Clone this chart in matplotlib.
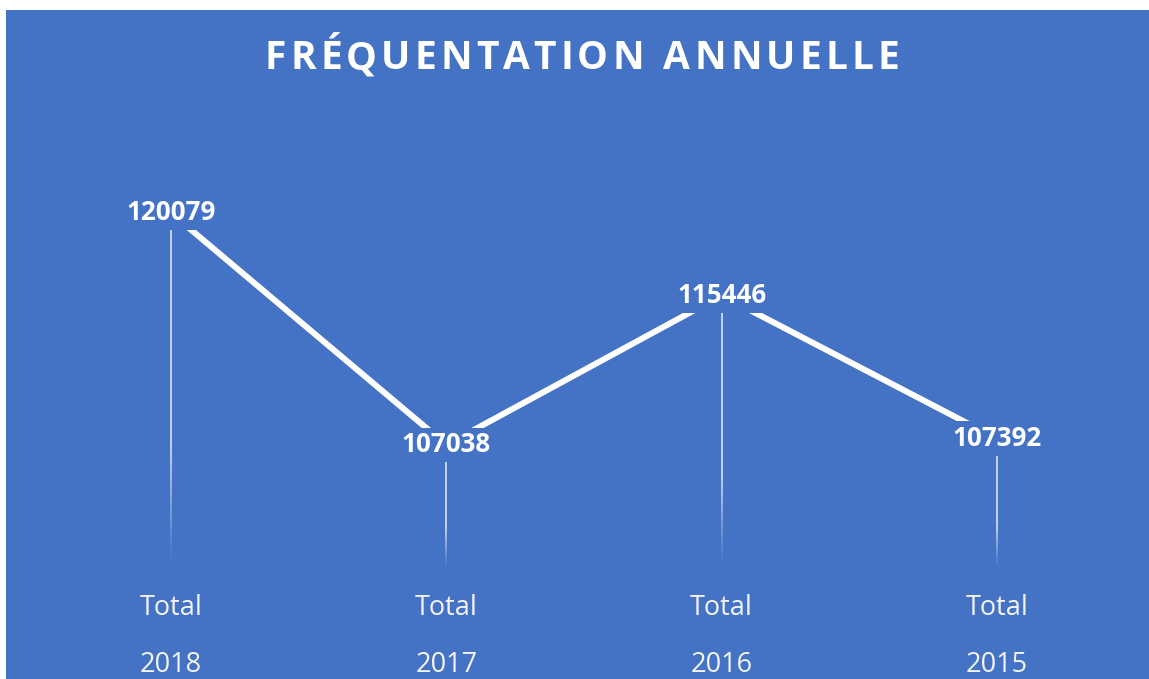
import numpy as np
import matplotlib
matplotlib.use("Agg")
import matplotlib.pyplot as plt
from matplotlib.patches import Rectangle
from matplotlib.collections import LineCollection

# donnees
categories = ["Total", "Total", "Total", "Total"]
annees = ["2018", "2017", "2016", "2015"]
frequentation = [120079, 107038, 115446, 107392]
titre = "FRÉQUENTATION ANNUELLE"

BLEU = "#4472C4"
W, H = 1149, 679

plt.rcParams['font.family'] = ['Open Sans', 'DejaVu Sans']

fig = plt.figure(figsize=(W / 100, H / 100), dpi=100)
fig.patch.set_facecolor("white")
fig.add_artist(Rectangle((6 / W, 0), 1, 669 / H, transform=fig.transFigure,
                         facecolor=BLEU, edgecolor="none", zorder=0))

ax = fig.add_axes([33.5 / W, (H - 570) / H, 1101 / W, (570 - 125.5) / H])
ax.set_facecolor("none")
ax.set_xlim(-0.5, len(annees) - 0.5)
ax.set_ylim(100000, 125000)
ax.axis("off")

x = np.arange(len(annees))

# lignes de projection qui s'estompent vers le bas
segs, cols = [], []
n = 80
for xi, v in zip(x, frequentation):
    ys = np.linspace(v, ax.get_ylim()[0], n + 1)
    for k in range(n):
        frac = 1 - k / n
        a = 0.75 * min(1.0, max(0.0, frac - 0.03) / 0.33)
        segs.append([(xi, ys[k]), (xi, ys[k + 1])])
        cols.append((1, 1, 1, a))
ax.add_collection(LineCollection(segs, colors=cols, linewidths=1.3, zorder=1))

ax.plot(x, frequentation, color="white", lw=4.3, solid_capstyle="butt", zorder=2)

for xi, v in zip(x, frequentation):
    ax.text(xi, v, str(v), ha="center", va="center", color="white",
            fontsize=18.7, fontweight="bold", zorder=3,
            bbox=dict(boxstyle="square,pad=0.14", fc=BLEU, ec="none"))

for xi, c, a in zip(x, categories, annees):
    ax.annotate(c, xy=(xi, 0), xycoords=("data", "axes fraction"),
                xytext=(0, -27.4), textcoords="offset points",
                ha="center", va="center", fontsize=19.5, color="#F4F4F4")
    ax.annotate(a, xy=(xi, 0), xycoords=("data", "axes fraction"),
                xytext=(0, -68.5), textcoords="offset points",
                ha="center", va="center", fontsize=19.5, color="#F4F4F4")

# titre avec espacement des lettres
renderer = fig.canvas.get_renderer()
fs_titre = 28
largeurs = []
for ch in titre:
    t = fig.text(0, 0, ch if ch != " " else "n", fontsize=fs_titre, fontweight="bold")
    bb = t.get_window_extent(renderer)
    largeurs.append(bb.width * (0.45 if ch == " " else 1))
    t.remove()
cible = 634
espace = (cible - sum(largeurs)) / (len(titre) - 1)
xpos = 582 - cible / 2
for ch, w in zip(titre, largeurs):
    if ch != " ":
        fig.text(xpos / W, (H - 54) / H, ch, fontsize=fs_titre, fontweight="bold",
                 color="white", ha="left", va="center_baseline")
    xpos += w + espace

fig.savefig("out.png", dpi=100, facecolor=fig.get_facecolor())
